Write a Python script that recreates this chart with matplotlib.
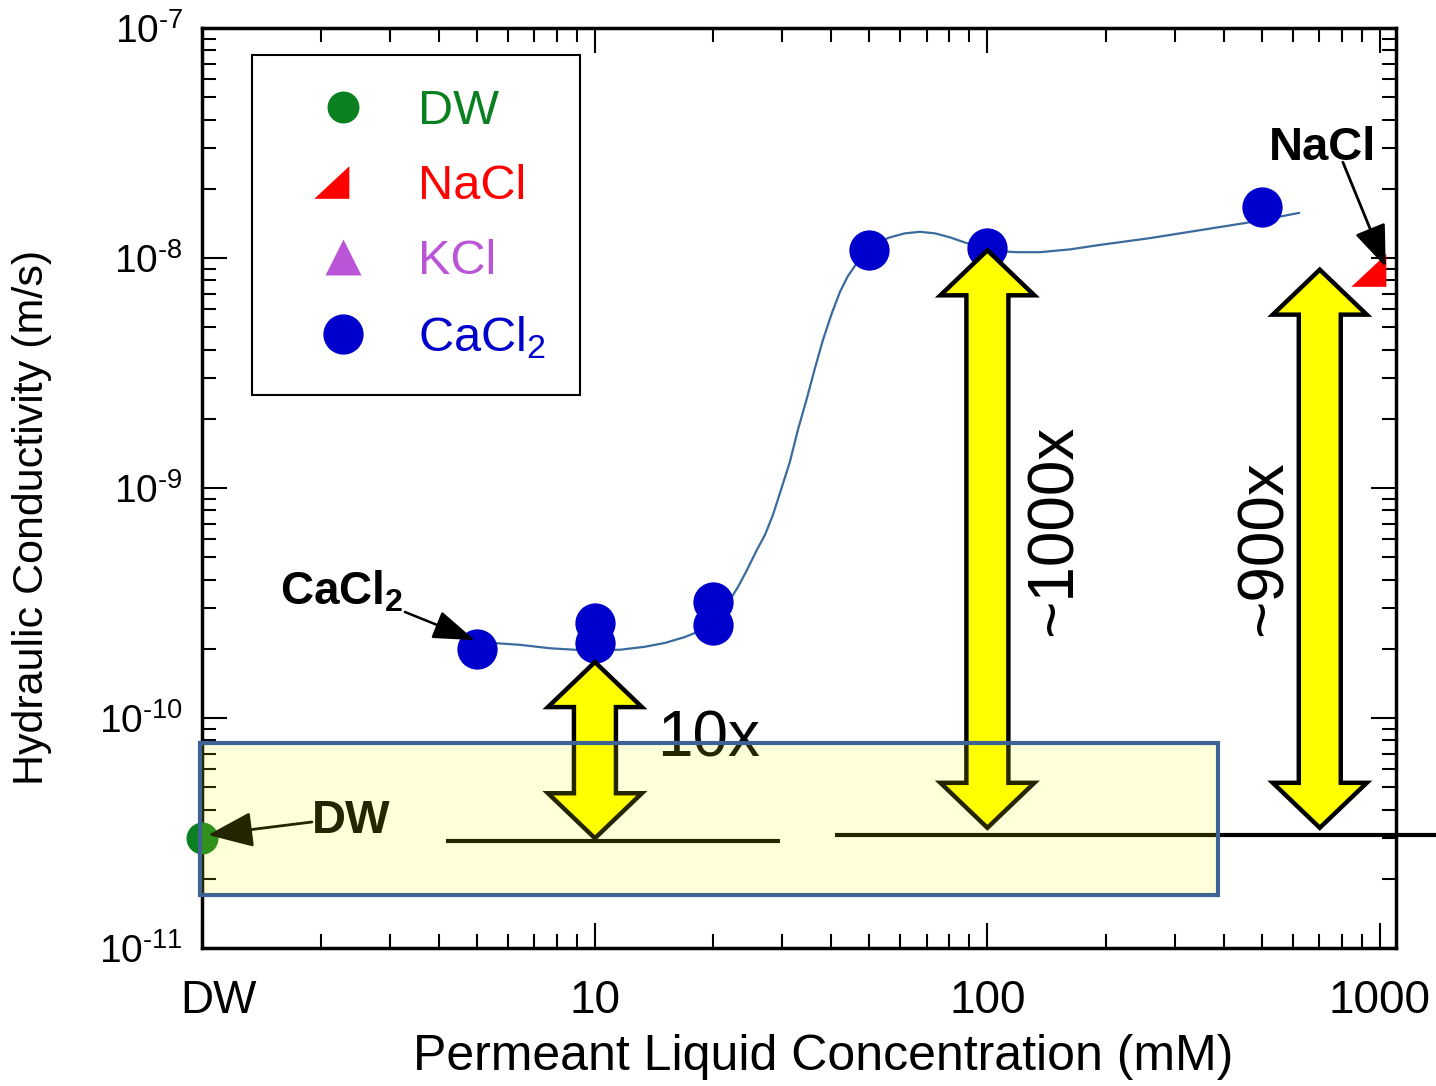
import matplotlib
matplotlib.use('Agg')
import matplotlib.pyplot as plt
from matplotlib.patches import Polygon, Rectangle
from matplotlib.transforms import IdentityTransform, ScaledTranslation
from matplotlib.ticker import LogLocator, NullFormatter, FuncFormatter
import numpy as np

plt.rcParams['font.family'] = ['Liberation Sans', 'DejaVu Sans']
plt.rcParams['mathtext.fontset'] = 'custom'
plt.rcParams['mathtext.rm'] = 'Liberation Sans'
plt.rcParams['mathtext.bf'] = 'Liberation Sans:bold'
plt.rcParams['mathtext.it'] = 'Liberation Sans:italic'
plt.rcParams['mathtext.default'] = 'regular'

# measured values (mM, m/s)
dw_x = [1]
dw_y = [3.0e-11]
nacl_x = [1000]
nacl_y = [8.9e-9]
cacl2_x = [5, 10, 10, 20, 20, 50, 100, 500]
cacl2_y = [2.0e-10, 2.59e-10, 2.12e-10, 3.19e-10, 2.54e-10, 1.08e-8, 1.10e-8, 1.67e-8]

# fitted trend line
fit_x = [5.47, 6.44, 7.68, 8.89, 10.0, 11.58, 13.41, 15.08, 16.96, 18.51, 19.87, 21.07,
         22.08, 23.14, 24.25, 25.86, 27.11, 28.41, 29.78, 31.39, 32.90, 34.69, 36.36,
         38.10, 40.17, 42.10, 44.12, 46.51, 48.75, 51.09, 53.85, 56.45, 61.64, 67.30,
         73.48, 80.28, 88.65, 98.55, 107.6, 118.9, 136.1, 162.3, 193.5, 259.4, 366.7,
         466.6, 621.8]
fit_y = [2.12e-10, 2.08e-10, 2.01e-10, 1.98e-10, 1.98e-10, 1.98e-10, 2.04e-10, 2.12e-10,
         2.25e-10, 2.39e-10, 2.61e-10, 2.92e-10, 3.26e-10, 3.71e-10, 4.31e-10, 5.38e-10,
         6.25e-10, 7.63e-10, 9.80e-10, 1.30e-9, 1.79e-9, 2.46e-9, 3.32e-9, 4.40e-9,
         5.77e-9, 7.12e-9, 8.35e-9, 9.51e-9, 1.04e-8, 1.12e-8, 1.19e-8, 1.23e-8, 1.28e-8,
         1.30e-8, 1.28e-8, 1.23e-8, 1.16e-8, 1.11e-8, 1.07e-8, 1.06e-8, 1.06e-8, 1.09e-8,
         1.14e-8, 1.22e-8, 1.34e-8, 1.43e-8, 1.57e-8]

# baselines for DW level
base1_x = [4.18, 29.6]
base1_y = [2.92e-11, 2.92e-11]
base2_x = [40.9, 1390]
base2_y = [3.10e-11, 3.10e-11]

# double arrows: x, top, bottom
arrows = [(10, 1.75e-10, 3.0e-11), (100, 1.08e-8, 3.33e-11), (703, 8.9e-9, 3.33e-11)]

# highlighted DW region
box_x = (0.988, 386)
box_y = (1.70e-11, 7.79e-11)

legend_labels = ['DW', 'NaCl', 'KCl', r'CaCl$_2$']
legend_colors = ['#0a8020', '#ff0000', '#bb55d8', '#0000cc']

fig = plt.figure(figsize=(14.36, 10.86), dpi=100)
ax = fig.add_axes([0.141, 0.1271, 0.8311, 0.8471])
ax.set_xscale('log')
ax.set_yscale('log')
ax.set_xlim(1, 1099)
ax.set_ylim(1e-11, 1e-7)

ax.plot(fit_x, fit_y, color='#3b6a9c', lw=1.6, zorder=2)
h_ca, = ax.plot(cacl2_x, cacl2_y, 'o', color='#0000cc', ms=29, mec='none', zorder=3)
h_dw, = ax.plot(dw_x, dw_y, 'o', color='#0a8020', ms=23, mec='none', zorder=3, clip_on=False)
tri = [(-1, -0.56), (0.2, -0.56), (0.2, 0.56), (-1, -0.56)]
h_na, = ax.plot(nacl_x, nacl_y, marker=tri, ls='none', color='#ff0000', ms=42, mec='none',
                zorder=3, clip_on=False)
h_k, = ax.plot([], [], '^', color='#bb55d8', ms=26, mec='none')

ax.plot(base1_x, base1_y, color='black', lw=3, zorder=4, solid_capstyle='butt')
ax.plot(base2_x, base2_y, color='black', lw=3, zorder=4, solid_capstyle='butt', clip_on=False)


def double_arrow(x, y_top, y_bot, shaft=21, head=47, head_len=45):
    px, top = ax.transData.transform((x, y_top))
    _, bot = ax.transData.transform((x, y_bot))
    verts = [(px, top), (px + head, top - head_len), (px + shaft, top - head_len),
             (px + shaft, bot + head_len), (px + head, bot + head_len), (px, bot),
             (px - head, bot + head_len), (px - shaft, bot + head_len),
             (px - shaft, top - head_len), (px - head, top - head_len)]
    ax.add_patch(Polygon(verts, closed=True, transform=IdentityTransform(),
                         facecolor='#ffff00', edgecolor='black', lw=3.2,
                         joinstyle='miter', zorder=4, clip_on=False))


for a in arrows:
    double_arrow(*a)

ax.text(14.4, 6.77e-11, '10x', fontsize=46, ha='left', va='baseline', zorder=5)
ax.text(148.6, 6.57e-10, '~1000x', fontsize=46, rotation=90, ha='center', va='center', zorder=5)
ax.text(509, 5.48e-10, '~900x', fontsize=46, rotation=90, ha='center', va='center', zorder=5)

# labels with pointers
ax.text(1.575, 3.1e-10, r'$\mathbf{CaCl_2}$', fontsize=33, ha='left', va='baseline', zorder=5)
ax.annotate('', xy=(4.94, 2.18e-10), xytext=(3.28, 2.89e-10),
            arrowprops=dict(arrowstyle='-|>,head_length=1.3,head_width=0.45', color='black',
                            lw=1.8, shrinkA=0, shrinkB=0, mutation_scale=20), zorder=5)
ax.text(1.90, 3.16e-11, 'DW', fontsize=34, fontweight='bold', ha='left', va='baseline', zorder=5)
ax.annotate('', xy=(1.033, 3.1e-11), xytext=(1.90, 3.53e-11),
            arrowprops=dict(arrowstyle='-|>,head_length=1.4,head_width=0.55', color='black',
                            lw=2, shrinkA=0, shrinkB=0, mutation_scale=20), zorder=5)
ax.text(521, 2.67e-8, 'NaCl', fontsize=34, fontweight='bold', ha='left', va='baseline', zorder=5)
ax.annotate('', xy=(1035, 9.14e-9), xytext=(805, 2.61e-8),
            arrowprops=dict(arrowstyle='-|>,head_length=1.3,head_width=0.5', color='black',
                            lw=2, shrinkA=0, shrinkB=0, mutation_scale=20), zorder=5,
            annotation_clip=False)

ax.add_patch(Rectangle((box_x[0], box_y[0]), box_x[1] - box_x[0], box_y[1] - box_y[0],
                       facecolor=(1, 1, 0, 0.15), edgecolor='#3d6394', lw=3, zorder=6,
                       clip_on=False))

# axes styling
ax.set_xticks([1, 10, 100, 1000])
ax.set_xticklabels(['DW', '10', '100', '1000'])
ax.xaxis.set_minor_locator(LogLocator(base=10, subs=range(2, 10)))
ax.xaxis.set_minor_formatter(NullFormatter())
ax.yaxis.set_major_locator(LogLocator(base=10, numticks=10))
ax.yaxis.set_major_formatter(FuncFormatter(
    lambda v, p: r'$10^{\text{-}%d}$' % round(-np.log10(v))))
ax.yaxis.set_minor_locator(LogLocator(base=10, subs=range(2, 10), numticks=10))
ax.yaxis.set_minor_formatter(NullFormatter())
ax.tick_params(which='both', direction='in', top=True, right=True, width=1.5)
ax.tick_params(which='major', length=18)
ax.tick_params(which='minor', length=10)
ax.tick_params(axis='x', labelsize=33, pad=22)
ax.tick_params(axis='y', labelsize=28, pad=14)
ax.get_xticklabels()[0].set_transform(ax.get_xticklabels()[0].get_transform()
                                      + ScaledTranslation(0.16, 0, fig.dpi_scale_trans))
for s in ax.spines.values():
    s.set_linewidth(2.5)

ax.set_xlabel('Permeant Liquid Concentration (mM)', fontsize=36)
ax.xaxis.set_label_coords(0.52, -0.093)
ax.set_ylabel('Hydraulic Conductivity (m/s)', fontsize=31)
ax.yaxis.set_label_coords(-0.126, 0.468)

leg = ax.legend(handles=[h_dw, h_na, h_k, h_ca], labels=legend_labels, loc='upper left',
                bbox_to_anchor=(252 / 1436, 1 - 55 / 1086), bbox_transform=fig.transFigure,
                borderaxespad=0, fontsize=35, frameon=True, fancybox=False, edgecolor='black',
                framealpha=1, borderpad=0.7, handlelength=2.35, handletextpad=0.37,
                labelspacing=0.62, numpoints=1)
leg.get_frame().set_linewidth(1.5)
leg.set_zorder(10)
for t, c in zip(leg.get_texts(), legend_colors):
    t.set_color(c)

fig.savefig('out.png', dpi=100)
